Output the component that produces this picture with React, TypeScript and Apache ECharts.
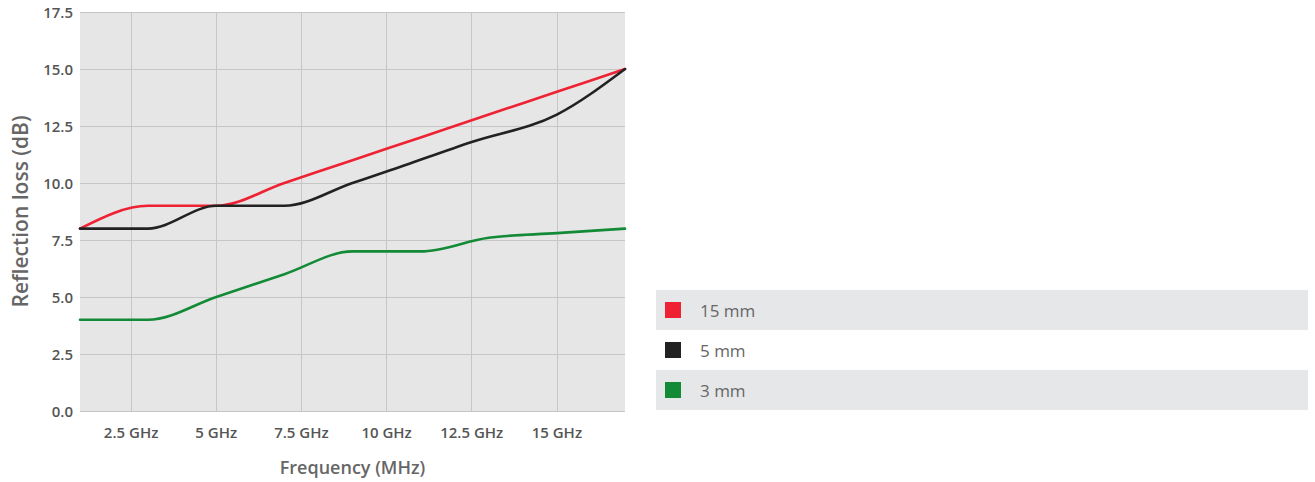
import React, { useEffect, useRef } from "react";
import * as echarts from "echarts";

const freqs = [1, 3, 5, 7, 9, 11, 13, 15, 17];
const blackFreqs = [1, 3, 5, 7, 9, 10, 12.5, 15, 17];
const seriesNames = ["15 mm", "5 mm", "3 mm"];
const red15 = [8, 9, 9, 10, 11, 12, 13, 14, 15];
const black5 = [8, 8, 9, 9, 10, 10.5, 11.8, 13, 15];
const green3 = [4, 4, 5, 6, 7, 7, 7.6, 7.8, 8];
const xTicks = [2.5, 5, 7.5, 10, 12.5, 15];
const colors = ["#ee2233", "#222222", "#138a36"];

const FONT = "'Open Sans', 'Noto Sans', sans-serif";

function monotonePath(pts: number[][]): string {
  const n = pts.length;
  const s: number[] = [];
  for (let i = 0; i < n - 1; i++) {
    s.push((pts[i + 1][1] - pts[i][1]) / (pts[i + 1][0] - pts[i][0]));
  }
  const t: number[] = new Array(n).fill(0);
  for (let i = 1; i < n - 1; i++) {
    const h0 = pts[i][0] - pts[i - 1][0];
    const h1 = pts[i + 1][0] - pts[i][0];
    const p = (s[i - 1] * h1 + s[i] * h0) / (h0 + h1);
    t[i] =
      (Math.sign(s[i - 1]) + Math.sign(s[i])) *
        Math.min(Math.abs(s[i - 1]), Math.abs(s[i]), 0.5 * Math.abs(p)) || 0;
  }
  t[0] = (3 * s[0] - t[1]) / 2;
  t[n - 1] = (3 * s[n - 2] - t[n - 2]) / 2;
  let d = `M${pts[0][0]},${pts[0][1]}`;
  for (let i = 0; i < n - 1; i++) {
    const [x0, y0] = pts[i];
    const [x1, y1] = pts[i + 1];
    const dx = (x1 - x0) / 3;
    d += `C${x0 + dx},${y0 + dx * t[i]},${x1 - dx},${y1 - dx * t[i + 1]},${x1},${y1}`;
  }
  return d;
}

export default function App() {
  const ref = useRef<HTMLDivElement>(null);
  useEffect(() => {
    document.body.style.margin = "0";
    const chart = echarts.init(ref.current!, null, { renderer: "svg" });
    const xs = [freqs, blackFreqs, freqs];
    const values = [red15, black5, green3];
    chart.setOption({
      animation: false,
      textStyle: { fontFamily: FONT },
      grid: {
        left: 80,
        top: 12,
        right: 690,
        bottom: 71,
        show: true,
        backgroundColor: "#e6e6e6",
        borderWidth: 0,
        outerBoundsMode: "none",
        containLabel: false,
      },
      graphic: [
        { type: "rect", shape: { x: 656, y: 290, width: 652, height: 40 }, style: { fill: "#e6e7e8" }, z: -1 },
        { type: "rect", shape: { x: 656, y: 370, width: 652, height: 40 }, style: { fill: "#e6e7e8" }, z: -1 },
      ],
      legend: {
        orient: "vertical",
        left: 660,
        top: 293,
        itemWidth: 16,
        itemHeight: 16,
        itemGap: 16,
        icon: "rect",
        selectedMode: false,
        data: seriesNames,
        textStyle: { fontSize: 17, color: "#666", fontFamily: FONT, padding: [0, 0, 0, 14], lineHeight: 24 },
      },
      xAxis: {
        type: "value",
        min: 1,
        max: 17,
        name: "Frequency (MHz)",
        nameLocation: "middle",
        nameGap: 47,
        nameTextStyle: { fontSize: 18, fontWeight: 600, color: "#666", fontFamily: FONT },
        axisLine: { show: false },
        axisTick: { show: false, customValues: xTicks },
        axisLabel: {
          customValues: xTicks,
          formatter: (v: number) => `${v} GHz`,
          fontSize: 15,
          fontWeight: 600,
          color: "#555",
          margin: 13,
          fontFamily: FONT,
        },
        splitLine: { show: true, lineStyle: { color: "#c6c6c6", width: 1 } },
      },
      yAxis: {
        type: "value",
        min: 0,
        max: 17.5,
        interval: 2.5,
        name: "Reflection loss (dB)",
        nameLocation: "middle",
        nameGap: 50,
        nameTextStyle: { fontSize: 21, fontWeight: 600, color: "#666", fontFamily: FONT },
        axisLine: { show: false },
        axisTick: { show: false },
        axisLabel: {
          formatter: (v: number) => v.toFixed(1),
          fontSize: 15,
          fontWeight: 600,
          color: "#555",
          margin: 7,
          fontFamily: FONT,
        },
        splitLine: { show: true, lineStyle: { color: "#c6c6c6", width: 1 } },
      },
      series: seriesNames.map((name, i) => ({
        name,
        type: "custom",
        data: xs[i].map((f, j) => [f, values[i][j]]),
        itemStyle: { color: colors[i] },
        encode: { x: 0, y: 1 },
        renderItem: (params: any, api: any) => {
          if (params.dataIndex !== 0) return null;
          const pts = xs[i].map((f, j) => api.coord([f, values[i][j]]));
          return {
            type: "path",
            shape: { pathData: monotonePath(pts) },
            style: { fill: "none", stroke: colors[i], lineWidth: 2.6, lineJoin: "round", lineCap: "round" },
          };
        },
      })),
    });
    return () => chart.dispose();
  }, []);
  return <div ref={ref} style={{ width: 1315, height: 482 }} />;
}
